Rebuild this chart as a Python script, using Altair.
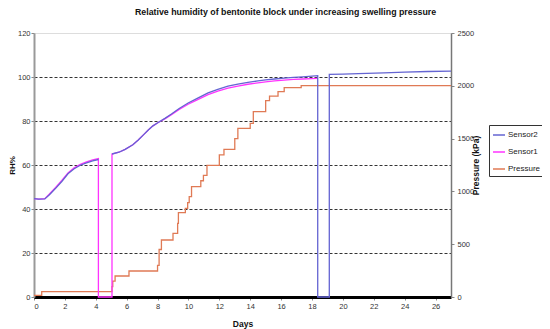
import altair as alt
import pandas as pd

# ---------------- data ----------------
s1_days = [0, 0.3, 0.7, 1.0, 1.4, 1.8, 2.2, 2.6, 3.0, 3.4, 3.8, 4.17,
           4.17, 5.05,
           5.05, 5.5, 5.9, 6.4, 6.75, 7.1, 7.4, 7.7, 8.04, 8.5, 8.9, 9.4, 9.98,
           10.6, 11.27, 11.9, 12.56, 13.2, 13.85, 14.5, 15.0, 15.57, 16.2, 16.8,
           17.4, 18.0, 18.37]
s1_vals = [44.7, 44.5, 44.7, 46.8, 49.8, 53.0, 56.4, 58.7, 60.3, 61.4, 62.3, 62.9,
           0, 0,
           65.0, 65.8, 67.1, 69.2, 71.4, 73.8, 75.9, 77.8, 79.3, 81.1, 82.9, 85.2, 87.6,
           89.7, 92.0, 93.6, 94.9, 95.9, 96.7, 97.3, 97.8, 98.2, 98.6, 98.9,
           99.1, 99.3, 99.4]

s2_days_a = [0, 0.3, 0.7, 1.0, 1.4, 1.8, 2.2, 2.6, 3.0, 3.4, 3.8, 4.17]
s2_vals_a = [44.7, 44.5, 44.6, 46.5, 49.4, 52.5, 56.0, 58.3, 59.9, 61.0, 61.9, 62.5]
s2_days_b = [5.05, 5.5, 5.9, 6.4, 6.75, 7.1, 7.4, 7.7, 8.04, 8.5, 8.9, 9.4, 9.98,
             10.6, 11.27, 11.9, 12.56, 13.2, 13.85, 14.5, 15.0, 15.57, 16.2, 16.8,
             17.4, 18.0, 18.37, 18.37, 19.12, 19.12, 20.0, 21.0, 22.66, 24.0,
             25.5, 27.0]
s2_vals_b = [65.0, 65.8, 67.1, 69.2, 71.4, 73.8, 75.9, 77.8, 79.3, 81.3, 83.2, 85.7, 88.2,
             90.4, 92.8, 94.4, 95.8, 96.8, 97.6, 98.2, 98.7, 99.1, 99.5, 99.8,
             100.1, 100.4, 100.6, 0, 0, 101.2, 101.3, 101.5, 101.9, 102.2,
             102.5, 102.7]

p_days = [0, 0.5, 5.05, 5.1, 5.25, 6.15, 8.0, 8.1, 8.25, 9.0, 9.3, 9.35, 9.8, 9.95,
          10.05, 10.2, 10.8, 10.97, 11.2, 12.0, 12.3, 13.0, 13.2, 14.0, 14.2, 15.0,
          15.25, 15.8, 16.2, 17.3, 27.0]
p_vals = [15, 50, 98, 150, 199, 246, 300, 450, 540, 603, 698, 799, 840, 893,
          950, 1045, 1101, 1152, 1247, 1345, 1398, 1499, 1597, 1645, 1755, 1859,
          1903, 1944, 1982, 2001, 2001]

x_ticks = list(range(0, 27, 2))
rh_ticks = [0, 20, 40, 60, 80, 100, 120]
p_ticks = [0, 500, 1000, 1500, 2000, 2500]

series_names = ["Sensor2", "Sensor1", "Pressure"]
series_colors = ["#6464D2", "#FF33FF", "#E07A55"]

# ---------------- frames ----------------
s1_df = pd.DataFrame({"day": s1_days, "value": s1_vals, "series": "Sensor1", "seg": 0})
s2_df = pd.concat([
    pd.DataFrame({"day": s2_days_a, "value": s2_vals_a, "series": "Sensor2", "seg": 0}),
    pd.DataFrame({"day": s2_days_b, "value": s2_vals_b, "series": "Sensor2", "seg": 1}),
])
p_df = pd.DataFrame({"day": p_days, "value": p_vals, "series": "Pressure", "seg": 0})

FONT = "Liberation Sans"

color = alt.Color("series:N",
                  scale=alt.Scale(domain=series_names, range=series_colors),
                  legend=alt.Legend(title=None, orient="none", legendX=455, legendY=92,
                                    symbolType="stroke", symbolSize=144,
                                    symbolStrokeWidth=1.5, labelFontSize=8,
                                    labelFont=FONT, labelColor="#222",
                                    strokeColor="#333", padding=3, rowPadding=6,
                                    labelOffset=2))

x_enc = alt.X("day:Q",
              scale=alt.Scale(domain=[0, 27], nice=False, zero=False),
              axis=alt.Axis(values=x_ticks, title="Days", grid=False,
                            domainColor="#000", domainWidth=3,
                            tickColor="#888", tickSize=3, labelPadding=2,
                            labelFontSize=7.5, labelFont=FONT, labelColor="#333",
                            titleFont=FONT, titleFontSize=8.5, titleFontWeight="bold",
                            titlePadding=10, titleColor="#111"))

rh_axis = alt.Axis(values=rh_ticks, title="RH%", orient="left",
                   grid=True, gridColor="#333", gridDash=[3, 2], gridWidth=1,
                   gridOpacity={"condition": {"test": "datum.value >= 120 || datum.value <= 0",
                                              "value": 0}, "value": 1},
                   domainColor="#999", domainWidth=2,
                   tickColor="#888", tickSize=3, labelPadding=1,
                   labelFontSize=7.5, labelFont=FONT, labelColor="#333",
                   titleFont=FONT, titleFontSize=8, titleFontWeight="bold",
                   titlePadding=1, titleColor="#111")

p_axis = alt.Axis(values=p_ticks, title="Pressure (kPa)", orient="right", format="d",
                  grid=False, domainColor="#777", domainWidth=1.5,
                  tickColor="#888", tickSize=3, labelPadding=3,
                  labelFontSize=7.5, labelFont=FONT, labelColor="#333",
                  titleFont=FONT, titleFontSize=8.5, titleFontWeight="bold",
                  titlePadding=7, titleColor="#111", titleAngle=270)

rh_scale = alt.Scale(domain=[0, 120], nice=False)

s1 = alt.Chart(s1_df).mark_line(strokeWidth=1.3).encode(
    x=x_enc, y=alt.Y("value:Q", scale=rh_scale, axis=rh_axis),
    color=color, detail="seg:N")
s2 = alt.Chart(s2_df).mark_line(strokeWidth=1.3).encode(
    x=x_enc, y=alt.Y("value:Q", scale=rh_scale, axis=rh_axis),
    color=color, detail="seg:N")
pr = alt.Chart(p_df).mark_line(strokeWidth=1.3, interpolate="step-after").encode(
    x=x_enc,
    y=alt.Y("value:Q", scale=alt.Scale(domain=[0, 2500], nice=False), axis=p_axis),
    color=color)

chart = alt.layer(pr, alt.layer(s1, s2)).resolve_scale(y="independent").properties(
    width=417, height=264,
    autosize=alt.AutoSizeParams(type="none"),
    padding={"left": 26, "top": 25, "right": 91, "bottom": 32},
    title=alt.TitleParams("Relative humidity of bentonite block under increasing swelling pressure",
                          anchor="start", frame="group", dx=101, font=FONT, fontSize=8.8,
                          fontWeight="bold", color="#111", offset=12),
).configure_view(stroke="#c8c8c8", strokeWidth=2).configure(background="white")

chart.save("out.html", embed_options={"renderer": "svg", "actions": False})
